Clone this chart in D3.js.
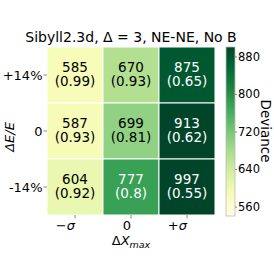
<!DOCTYPE html>
<html>
<head>
<meta charset="utf-8">
<script src="https://cdn.jsdelivr.net/npm/d3@7"></script>
<style>
  body { margin: 0; background: #fff; }
  text { font-family: "DejaVu Sans", sans-serif; }
</style>
</head>
<body>
<div id="chart"></div>
<script>
// data
var xLabels = ["\u2212\u03c3", "0", "+\u03c3"];
var yLabels = ["+14%", "0", "-14%"];
var deviance = [
  [585, 670, 875],
  [587, 699, 913],
  [604, 777, 997]
];
var ratio = [
  ["0.99", "0.93", "0.65"],
  ["0.93", "0.81", "0.62"],
  ["0.92", "0.8", "0.55"]
];
var cbTicks = [560, 640, 720, 800, 880];
var vmin = 540, vmax = 900;

var svgWidth = 274, svgHeight = 274;
var plotLeft = 47, plotTop = 47, size = 168;

var svg = d3.select("#chart").append("svg")
  .attr("width", svgWidth)
  .attr("height", svgHeight);

// matplotlib YlGn, linear segments
var ylgn = ["#ffffe5","#f7fcb9","#d9f0a3","#addd8e","#78c679","#41ab5d","#238443","#006837","#004529"];
var colorScale = d3.scaleLinear()
  .domain(d3.range(9).map(i => vmin + (vmax - vmin) * i / 8))
  .range(ylgn)
  .clamp(true);

var x = d3.scaleBand().domain(xLabels).range([plotLeft, plotLeft + size]);
var y = d3.scaleBand().domain(yLabels).range([plotTop, plotTop + size]);

// flatten cells
var cells = [];
yLabels.forEach(function(yl, i) {
  xLabels.forEach(function(xl, j) {
    cells.push({ x: xl, y: yl, v: deviance[i][j], r: ratio[i][j] });
  });
});

svg.append("g").selectAll("rect")
  .data(cells)
  .enter()
  .append("rect")
  .attr("x", d => x(d.x))
  .attr("y", d => y(d.y))
  .attr("width", x.bandwidth())
  .attr("height", y.bandwidth())
  .attr("fill", d => colorScale(d.v))
  .attr("stroke", "#fff")
  .attr("stroke-width", 1);

var textColor = d => (d.v - vmin) / (vmax - vmin) > 0.5 ? "#fff" : "#000";

// annotation: value on the first line, ratio below
svg.append("g").selectAll("text")
  .data(cells)
  .enter()
  .append("text")
  .attr("text-anchor", "middle")
  .attr("font-size", "13.5px")
  .attr("fill", textColor)
  .attr("x", d => x(d.x) + x.bandwidth() / 2)
  .attr("y", d => y(d.y) + y.bandwidth() / 2 - 3)
  .text(d => d.v);

svg.append("g").selectAll("text")
  .data(cells)
  .enter()
  .append("text")
  .attr("text-anchor", "middle")
  .attr("font-size", "13.5px")
  .attr("fill", textColor)
  .attr("x", d => x(d.x) + x.bandwidth() / 2)
  .attr("y", d => y(d.y) + y.bandwidth() / 2 + 11)
  .text(d => "(" + d.r + ")");

// axes
var xAxis = svg.append("g")
  .attr("transform", `translate(0, ${plotTop + size})`)
  .call(d3.axisBottom(x).tickSize(3.5).tickPadding(2));
xAxis.select(".domain").remove();
xAxis.selectAll("line").attr("stroke", "#888");
xAxis.selectAll("text")
  .attr("font-size", "13px")
  .attr("font-family", "DejaVu Sans")
  .attr("text-anchor", "end")
  .attr("x", 0)
  .attr("dy", "0.72em")
  .style("font-style", d => d === "0" ? "normal" : "italic")
  .attr("fill", "#000");

var yAxis = svg.append("g")
  .attr("transform", `translate(${plotLeft}, 0)`)
  .call(d3.axisLeft(y).tickSize(3.5).tickPadding(1));
yAxis.select(".domain").remove();
yAxis.selectAll("line").attr("stroke", "#888");
yAxis.selectAll("text")
  .attr("font-size", "13px")
  .attr("font-family", "DejaVu Sans")
  .attr("dy", "0.35em")
  .attr("fill", "#000");

// title
svg.append("text")
  .attr("x", 131)
  .attr("y", 42)
  .attr("text-anchor", "middle")
  .attr("font-size", "14px")
  .text("Sibyll2.3d, \u0394 = 3, NE-NE, No B");

// axis labels
var xl = svg.append("text")
  .attr("x", 131)
  .attr("y", 245)
  .attr("text-anchor", "middle")
  .attr("font-size", "13px");
xl.append("tspan").text("\u0394");
xl.append("tspan").style("font-style", "italic").text("X");
xl.append("tspan").style("font-style", "italic").attr("font-size", "9.5px").attr("dy", 3).text("max");

svg.append("text")
  .attr("transform", "translate(14, 137) rotate(-90)")
  .attr("text-anchor", "middle")
  .attr("font-size", "13px")
  .style("font-style", "italic")
  .text("\u0394E/E");

// colorbar
var cbX = 226, cbW = 9, cbTop = 47, cbBottom = 216;
var cbScale = d3.scaleLinear().domain([vmin, vmax]).range([cbBottom, cbTop]);

var defs = svg.append("defs");
var grad = defs.append("linearGradient")
  .attr("id", "cbgrad")
  .attr("x1", 0).attr("y1", 1).attr("x2", 0).attr("y2", 0);
ylgn.forEach(function(c, i) {
  grad.append("stop").attr("offset", i / 8).attr("stop-color", c);
});

svg.append("rect")
  .attr("x", cbX)
  .attr("y", cbTop)
  .attr("width", cbW)
  .attr("height", cbBottom - cbTop)
  .attr("fill", "url(#cbgrad)")
  .attr("stroke", "#bbb")
  .attr("stroke-width", 0.8);

var cbAxis = svg.append("g")
  .attr("transform", `translate(${cbX + cbW}, 0)`)
  .call(d3.axisRight(cbScale).tickValues(cbTicks).tickSize(2).tickPadding(1));
cbAxis.select(".domain").remove();
cbAxis.selectAll("line").attr("stroke", "#888");
cbAxis.selectAll("text")
  .attr("font-size", "11.5px")
  .attr("font-family", "DejaVu Sans")
  .attr("fill", "#000");

svg.append("text")
  .attr("transform", "translate(261, 131) rotate(90)")
  .attr("text-anchor", "middle")
  .attr("font-size", "13.5px")
  .text("Deviance");
</script>
</body>
</html>
